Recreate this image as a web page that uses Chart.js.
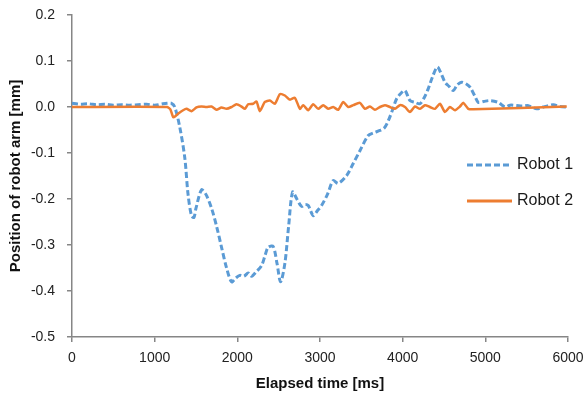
<!DOCTYPE html>
<html lang="en">
<head>
    <meta charset="UTF-8">
    <title>Robot arm position</title>
    <style>
        body { margin: 0; background-color: #ffffff; }
        #wrap { position: relative; width: 585px; height: 405px; }
    </style>
</head>
<body>
    <div id="wrap">
        <canvas id="myChart" width="585" height="405"></canvas>
    </div>
    <script src="https://cdn.jsdelivr.net/npm/chart.js"></script>
    <script>
        // data (time in ms, position in mm)
        const seriesNames = ['Robot 1', 'Robot 2']
        const xTicks = [0, 1000, 2000, 3000, 4000, 5000, 6000]
        const yTicks = [0.2, 0.1, 0.0, -0.1, -0.2, -0.3, -0.4, -0.5]

        const time1 = [0, 50, 100, 200, 300, 400, 500, 600, 700, 800, 900, 1000, 1100, 1150, 1203, 1243, 1304, 1364, 1404, 1445,
            1475, 1500, 1567, 1620, 1688, 1750, 1809, 1870, 1930, 1980, 2030, 2080, 2131, 2172, 2230, 2293, 2340, 2373, 2433, 2480,
            2523, 2575, 2620, 2668, 2720, 2777, 2820, 2857, 2918, 2970, 3019, 3090, 3160, 3220, 3322, 3402, 3483, 3584, 3650, 3725,
            3780, 3826, 3880, 3927, 3980, 4028, 4088, 4150, 4209, 4260, 4310, 4360, 4419, 4460, 4512, 4560, 4613, 4660, 4714, 4770,
            4815, 4870, 4915, 4980, 5057, 5157, 5238, 5300, 5380, 5450, 5520, 5622, 5700, 5760, 5823, 5900, 6000]
        const robot1 = [0.008, 0.007, 0.006, 0.007, 0.005, 0.006, 0.004, 0.005, 0.004, 0.005, 0.006, 0.004, 0.007, 0.008, 0.008, 0.0, -0.044, -0.11, -0.19, -0.236,
            -0.24, -0.22, -0.18, -0.19, -0.22, -0.26, -0.305, -0.35, -0.38, -0.372, -0.366, -0.368, -0.361, -0.368, -0.358, -0.345, -0.32, -0.305, -0.303, -0.34,
            -0.38, -0.34, -0.26, -0.185, -0.2, -0.216, -0.212, -0.214, -0.236, -0.225, -0.214, -0.19, -0.16, -0.166, -0.149, -0.123, -0.095, -0.062, -0.056, -0.051,
            -0.045, -0.03, -0.005, 0.018, 0.03, 0.036, 0.014, 0.01, 0.007, 0.02, 0.04, 0.065, 0.087, 0.075, 0.054, 0.045, 0.036, 0.048, 0.054, 0.05,
            0.043, 0.025, 0.01, 0.012, 0.014, 0.01, 0.0, 0.004, 0.003, 0.002, 0.003, -0.004, 0.0, 0.003, 0.005, 0.001, 0.0]

        const time2 = [0, 1150, 1190, 1223, 1250, 1283, 1344, 1385, 1445, 1506, 1566, 1627, 1687, 1748, 1808, 1869, 1930, 1990, 2051, 2091,
            2131, 2191, 2232, 2272, 2333, 2393, 2454, 2515, 2575, 2636, 2696, 2757, 2797, 2857, 2918, 2978, 3039, 3099, 3160, 3220,
            3281, 3341, 3402, 3483, 3544, 3604, 3665, 3725, 3786, 3846, 3906, 3967, 4028, 4088, 4149, 4209, 4270, 4330, 4391, 4451,
            4512, 4572, 4633, 4693, 4734, 4794, 4855, 5985]
        const robot2 = [0.0, 0.0, -0.005, -0.022, -0.02, -0.0145, -0.007, -0.004, -0.009, -0.001, 0.001, 0.0, 0.001, -0.006, -0.001, -0.004, 0.0, 0.006, 0.001, -0.004,
            0.006, 0.007, 0.012, -0.009, 0.011, 0.014, 0.007, 0.028, 0.025, 0.016, 0.02, -0.004, 0.004, -0.007, 0.006, -0.004, 0.004, -0.004, 0.0, -0.006,
            0.011, 0.0, 0.004, 0.009, -0.004, 0.001, -0.006, 0.0, 0.004, 0.0, -0.004, 0.004, 0.0, -0.011, 0.001, -0.004, 0.004, 0.0, -0.004, 0.007,
            -0.011, 0.0, -0.007, 0.001, 0.009, -0.004, -0.005, 0.001]

        const toPoints = (xs, ys) => xs.map((x, i) => ({ x: x, y: ys[i] }))

        const fontFam = "'Liberation Sans', Arial, sans-serif"
        const axisGrey = '#868686'

        // legend drawn inside the plot, like the original
        const insideLegend = {
            id: 'insideLegend',
            afterDraw(chart) {
                const ctx = chart.ctx
                const rows = [
                    { y: 165, color: '#5B9BD5', dash: [6, 3] },
                    { y: 201, color: '#ED7D31', dash: [] }
                ]
                ctx.save()
                rows.forEach((r, i) => {
                    ctx.beginPath()
                    ctx.setLineDash(r.dash)
                    ctx.strokeStyle = r.color
                    ctx.lineWidth = 3
                    ctx.moveTo(467, r.y)
                    ctx.lineTo(512, r.y)
                    ctx.stroke()
                    ctx.setLineDash([])
                    ctx.fillStyle = '#1a1a1a'
                    ctx.font = '16px ' + fontFam
                    ctx.textBaseline = 'middle'
                    ctx.textAlign = 'left'
                    ctx.fillText(seriesNames[i], 517, r.y)
                })
                ctx.restore()
            }
        }

        const ctx = document.getElementById('myChart')
        const myChart = new Chart(ctx, {
            type: 'line',
            data: {
                datasets: [{
                    label: seriesNames[0],
                    data: toPoints(time1, robot1),
                    borderColor: '#5B9BD5',
                    borderWidth: 3,
                    borderDash: [6, 3],
                    pointRadius: 0,
                    tension: 0.3,
                    fill: false,
                    order: 1
                }, {
                    label: seriesNames[1],
                    data: toPoints(time2, robot2),
                    borderColor: '#ED7D31',
                    borderWidth: 2.5,
                    pointRadius: 0,
                    tension: 0.2,
                    fill: false,
                    order: 0
                }]
            },
            options: {
                responsive: false,
                animation: false,
                layout: { padding: { top: 15, right: 17, left: 0, bottom: 0 } },
                plugins: {
                    legend: { display: false },
                    tooltip: { enabled: false }
                },
                scales: {
                    x: {
                        type: 'linear',
                        min: 0,
                        max: 6000,
                        afterBuildTicks: (scale) => { scale.ticks = xTicks.map(v => ({ value: v })) },
                        afterFit: (scale) => {
                            scale.height = 68
                            scale.paddingLeft = 0
                            scale.paddingRight = 0
                        },
                        ticks: {
                            color: '#222',
                            font: { family: fontFam, size: 14 },
                            padding: 8,
                            maxRotation: 0,
                            callback: (v) => String(v)
                        },
                        grid: { drawOnChartArea: false, color: axisGrey, lineWidth: 1.5, tickLength: 5 },
                        border: { color: axisGrey, width: 1.5 },
                        title: {
                            display: true,
                            text: 'Elapsed time [ms]',
                            color: '#111',
                            font: { family: fontFam, size: 15, weight: 'bold' },
                            padding: { top: 0, bottom: 12 }
                        }
                    },
                    y: {
                        min: -0.5,
                        max: 0.2,
                        afterBuildTicks: (scale) => { scale.ticks = yTicks.map(v => ({ value: v })) },
                        afterFit: (scale) => {
                            scale.width = 72
                            scale.paddingTop = 0
                            scale.paddingBottom = 0
                        },
                        ticks: {
                            color: '#222',
                            font: { family: fontFam, size: 14 },
                            padding: 12,
                            callback: (v) => Number(v).toFixed(1)
                        },
                        grid: { drawOnChartArea: false, color: axisGrey, lineWidth: 1.5, tickLength: 5 },
                        border: { color: axisGrey, width: 1.5 },
                        title: {
                            display: true,
                            text: 'Position of robot arm [mm]',
                            color: '#111',
                            font: { family: fontFam, size: 15, weight: 'bold' },
                            padding: { top: 7, bottom: 0 }
                        }
                    }
                }
            },
            plugins: [insideLegend]
        })
    </script>
</body>
</html>
